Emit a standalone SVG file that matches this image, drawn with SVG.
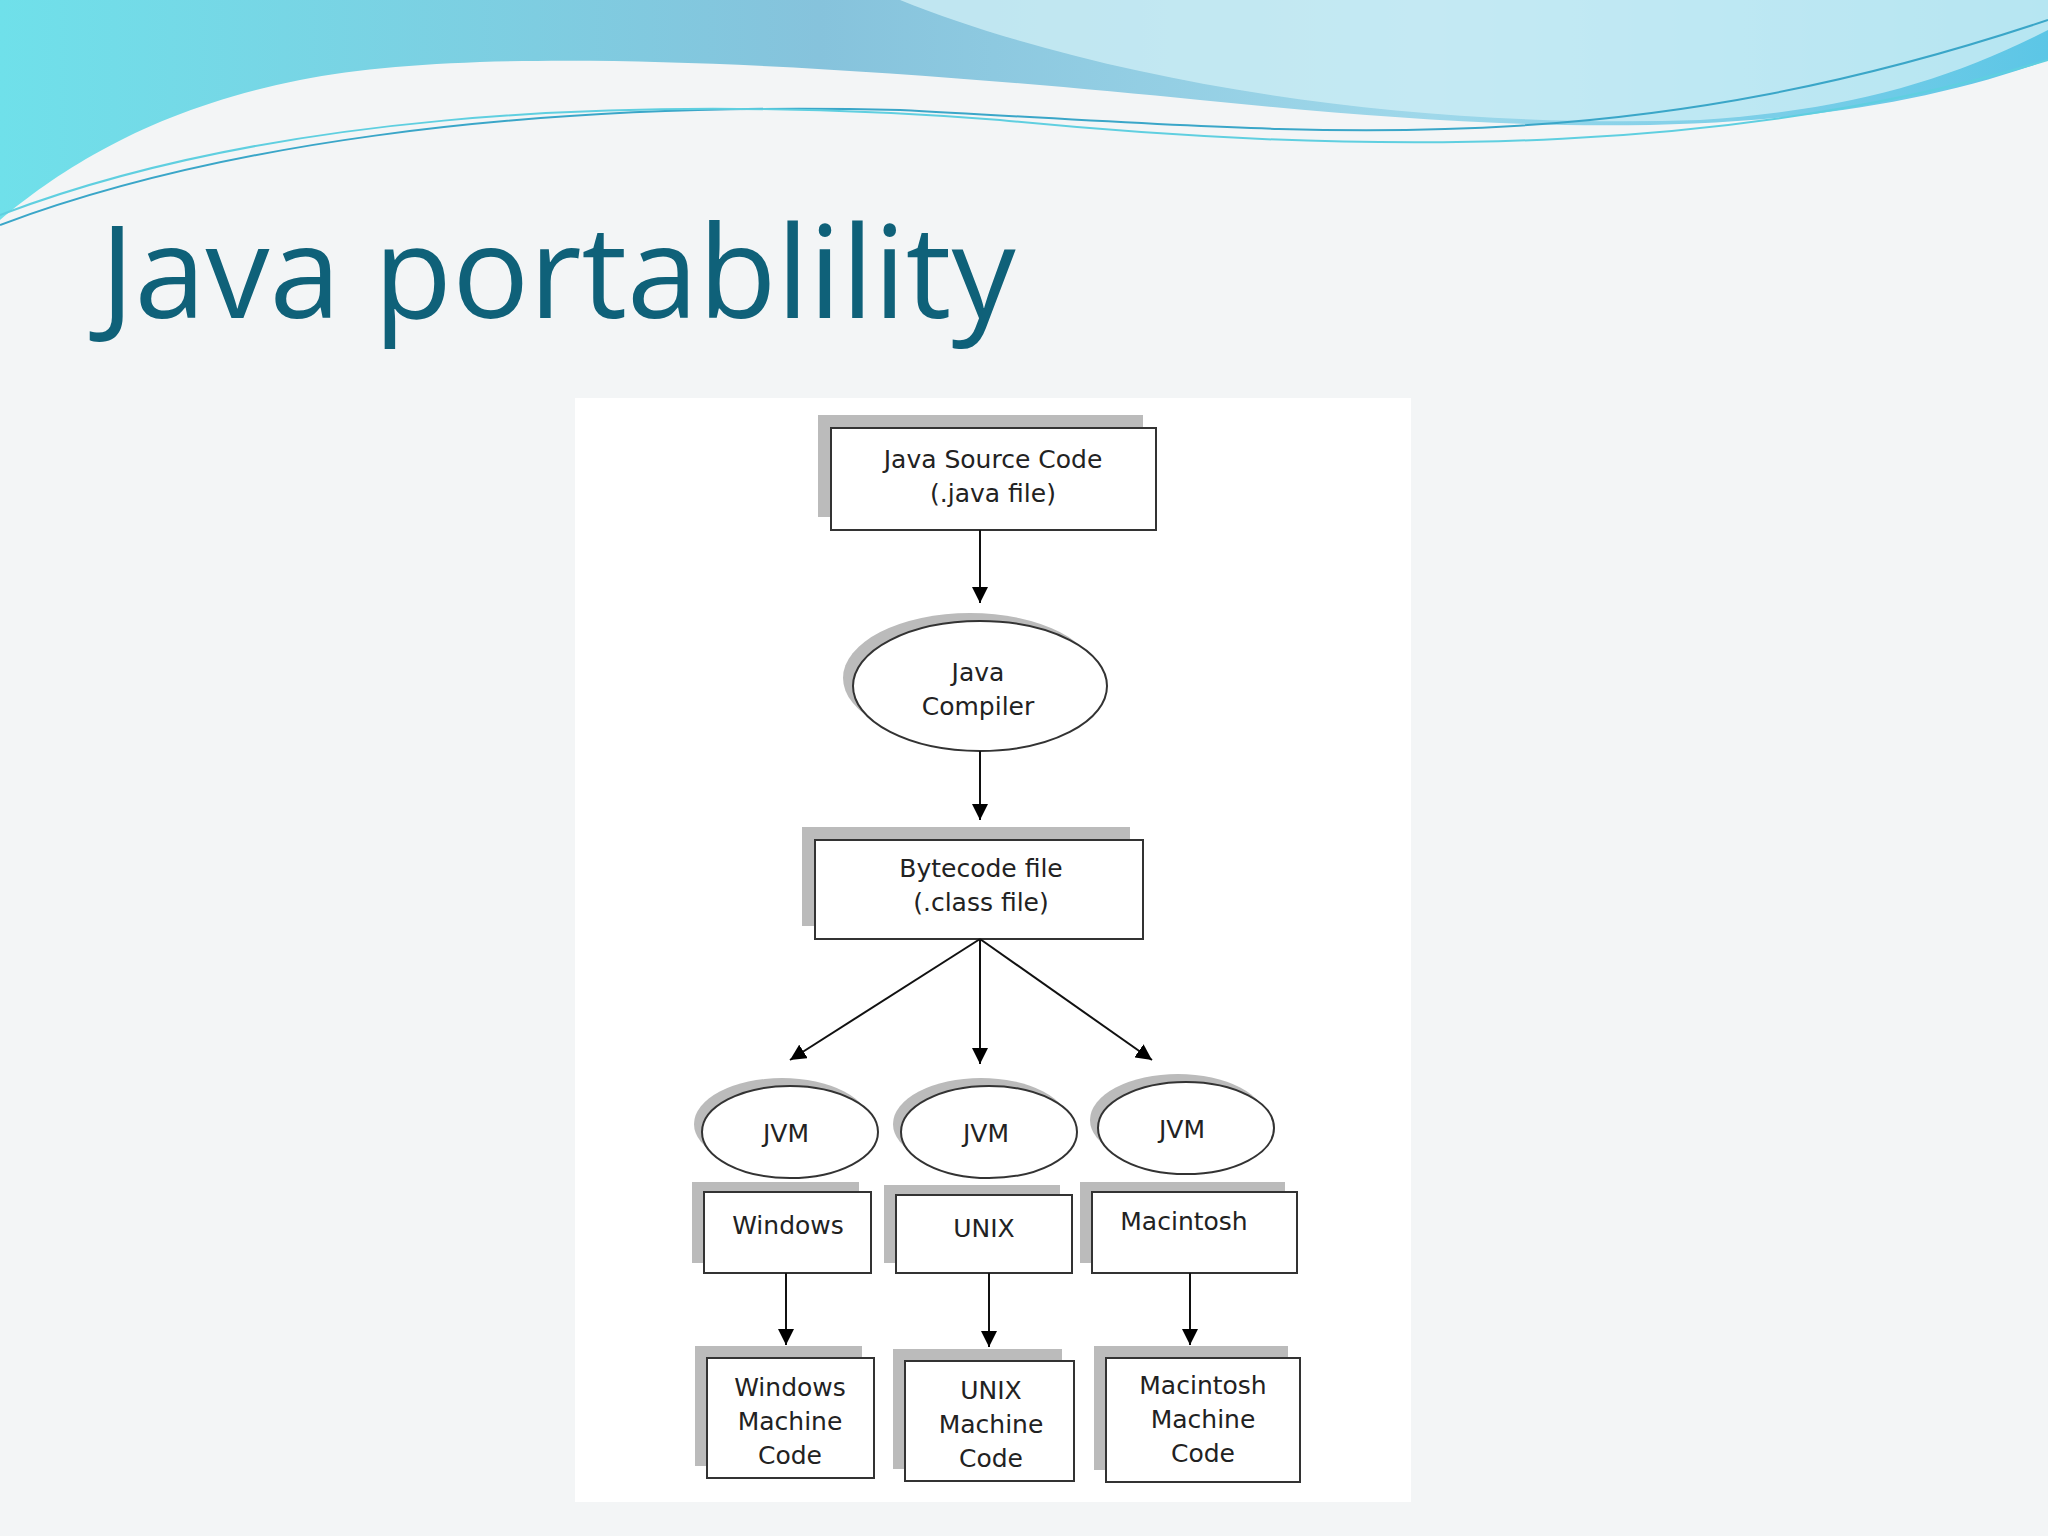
<svg xmlns="http://www.w3.org/2000/svg" width="2048" height="1536" viewBox="0 0 2048 1536">
<defs>
<linearGradient id="wv" x1="0" y1="0" x2="1" y2="0"><stop offset="0" stop-color="#6fe0ea"/><stop offset="0.4" stop-color="#86c3dc"/><stop offset="0.7" stop-color="#9fd8ea"/><stop offset="1" stop-color="#5cc6e6"/></linearGradient>
<marker id="ah" viewBox="0 0 10 10" refX="10" refY="5" markerWidth="8" markerHeight="8" orient="auto"><path d="M0,0L10,5L0,10z" fill="#000"/></marker>
</defs>
<style>
.bx{fill:#fff;stroke:#333;stroke-width:2}
.sh{fill:#bbb}
.t{font-family:"DejaVu Sans",sans-serif;font-size:25px;fill:#222;text-anchor:middle}
.c{stroke:#111;stroke-width:2;marker-end:url(#ah)}
</style>
<rect width="2048" height="1536" fill="#f3f5f6"/>
<path d="M0,0H2048V60C1800,150 1500,130 1200,100C900,70 500,40 300,80C150,110 60,170 0,220Z" fill="url(#wv)"/>
<path d="M900,0C1100,80 1400,130 1700,120C1850,110 1950,80 2048,30V0Z" fill="#cdeef5" opacity="0.8"/>
<path d="M0,225C200,150 500,100 900,110C1300,130 1600,170 2048,20" fill="none" stroke="#3aa6c8" stroke-width="2"/>
<path d="M0,215C250,120 600,90 1000,120C1400,160 1750,150 2048,60" fill="none" stroke="#5fcfe0" stroke-width="2"/>
<text x="100" y="318" font-family="Open Sans,sans-serif" font-size="128" fill="#0f6179">Java portablility</text>
<rect x="575" y="398" width="836" height="1104" fill="#fff"/>
<g id="src"><rect class="sh" x="818" y="415" width="325" height="102"/><rect class="bx" x="831" y="428" width="325" height="102"/><text class="t" x="993" y="468">Java Source Code</text><text class="t" x="993" y="502">(.java file)</text></g>
<g id="compiler"><ellipse class="sh" cx="970" cy="678" rx="127" ry="65"/><ellipse class="bx" cx="980" cy="686" rx="127" ry="65"/><text class="t" x="978" y="681">Java</text><text class="t" x="978" y="715">Compiler</text></g>
<g id="byte"><rect class="sh" x="802" y="827" width="328" height="99"/><rect class="bx" x="815" y="840" width="328" height="99"/><text class="t" x="981" y="877">Bytecode file</text><text class="t" x="981" y="911">(.class file)</text></g>
<g id="jvm1"><ellipse class="sh" cx="782" cy="1124" rx="88" ry="46"/><ellipse class="bx" cx="790" cy="1132" rx="88" ry="46"/><text class="t" x="786" y="1142">JVM</text></g>
<g id="jvm2"><ellipse class="sh" cx="981" cy="1124" rx="88" ry="46"/><ellipse class="bx" cx="989" cy="1132" rx="88" ry="46"/><text class="t" x="986" y="1142">JVM</text></g>
<g id="jvm3"><ellipse class="sh" cx="1178" cy="1120" rx="88" ry="46"/><ellipse class="bx" cx="1186" cy="1128" rx="88" ry="46"/><text class="t" x="1182" y="1138">JVM</text></g>
<g id="win"><rect class="sh" x="692" y="1182" width="167" height="81"/><rect class="bx" x="704" y="1192" width="167" height="81"/><text class="t" x="788" y="1234">Windows</text></g>
<g id="unix"><rect class="sh" x="884" y="1185" width="176" height="78"/><rect class="bx" x="896" y="1195" width="176" height="78"/><text class="t" x="984" y="1237">UNIX</text></g>
<g id="mac"><rect class="sh" x="1080" y="1182" width="205" height="81"/><rect class="bx" x="1092" y="1192" width="205" height="81"/><text class="t" x="1184" y="1230">Macintosh</text></g>
<g id="wcode"><rect class="sh" x="695" y="1346" width="167" height="120"/><rect class="bx" x="707" y="1358" width="167" height="120"/><text class="t" x="790" y="1396">Windows</text><text class="t" x="790" y="1430">Machine</text><text class="t" x="790" y="1464">Code</text></g>
<g id="ucode"><rect class="sh" x="893" y="1349" width="169" height="120"/><rect class="bx" x="905" y="1361" width="169" height="120"/><text class="t" x="991" y="1399">UNIX</text><text class="t" x="991" y="1433">Machine</text><text class="t" x="991" y="1467">Code</text></g>
<g id="mcode"><rect class="sh" x="1094" y="1346" width="194" height="124"/><rect class="bx" x="1106" y="1358" width="194" height="124"/><text class="t" x="1203" y="1394">Macintosh</text><text class="t" x="1203" y="1428">Machine</text><text class="t" x="1203" y="1462">Code</text></g>
<g id="connectors">
<line class="c" x1="980" y1="530" x2="980" y2="603"/>
<line class="c" x1="980" y1="751" x2="980" y2="820"/>
<line class="c" x1="980" y1="939" x2="790" y2="1060"/>
<line class="c" x1="980" y1="939" x2="980" y2="1064"/>
<line class="c" x1="980" y1="939" x2="1152" y2="1060"/>
<line class="c" x1="786" y1="1273" x2="786" y2="1345"/>
<line class="c" x1="989" y1="1273" x2="989" y2="1347"/>
<line class="c" x1="1190" y1="1273" x2="1190" y2="1345"/>
</g>
</svg>
